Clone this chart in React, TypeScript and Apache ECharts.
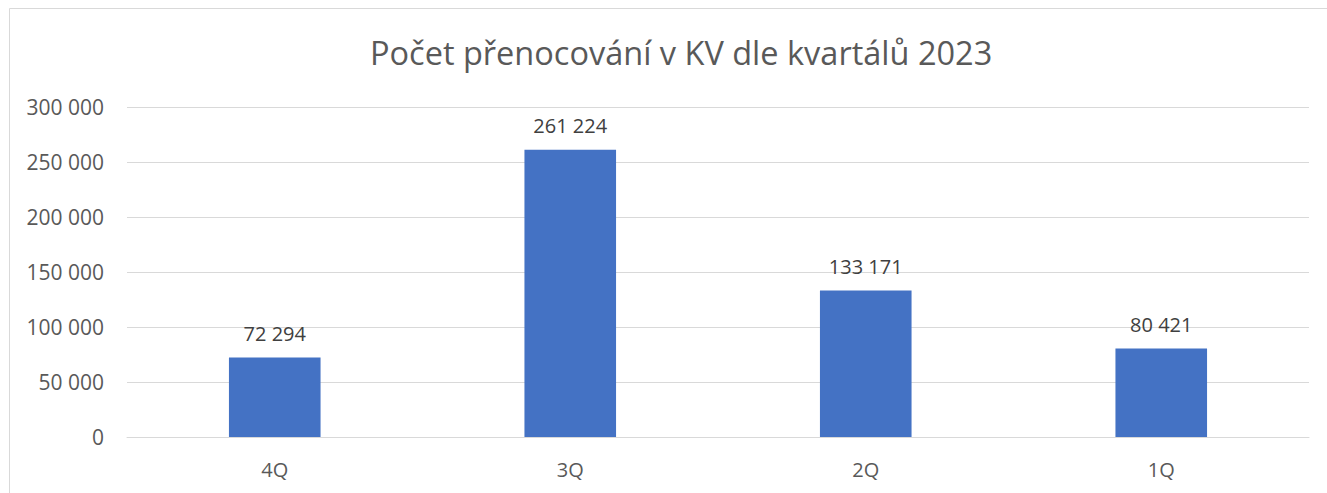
import React, { useEffect, useRef } from "react";
import * as echarts from "echarts";

const title = "Počet přenocování v KV dle kvartálů 2023";
const categories = ["4Q", "3Q", "2Q", "1Q"];
const values = [72294, 261224, 133171, 80421];
const yMin = 0;
const yMax = 300000;
const yInterval = 50000;

const fmt = (v: number) => String(Math.round(v)).replace(/\B(?=(\d{3})+(?!\d))/g, " ");

export default function App() {
  const ref = useRef<HTMLDivElement>(null);
  useEffect(() => {
    document.body.style.margin = "0";
    const chart = echarts.init(ref.current!, null, { renderer: "svg" });
    const font = "Open Sans, Liberation Sans, sans-serif";
    chart.setOption({
      animation: false,
      backgroundColor: "#ffffff",
      title: {
        text: title,
        left: 365,
        top: 31,
        textStyle: { fontFamily: font, fontSize: 32.5, fontWeight: "normal", color: "#595959" },
      },
      graphic: [
        {
          type: "rect",
          shape: { x: 9.5, y: 8.5, width: 1400, height: 600 },
          style: { fill: "none", stroke: "#d9d9d9", lineWidth: 1 },
          silent: true,
        },
      ],
      grid: { left: 127, right: 18, top: 107, bottom: 56, containLabel: false },
      xAxis: {
        type: "category",
        data: categories,
        axisLine: { show: true, lineStyle: { color: "#d9d9d9", width: 1 } },
        axisTick: { show: false },
        axisLabel: { color: "#595959", fontFamily: font, fontSize: 20, margin: 22 },
      },
      yAxis: {
        type: "value",
        min: yMin,
        max: yMax,
        interval: yInterval,
        axisLine: { show: false },
        axisTick: { show: false },
        splitLine: { lineStyle: { color: "#d9d9d9", width: 1 } },
        axisLabel: { color: "#595959", fontFamily: font, fontSize: 21, margin: 23, formatter: (v: number) => fmt(v) },
      },
      series: [
        {
          type: "bar",
          data: values,
          barWidth: "31%",
          itemStyle: { color: "#4472C4" },
          label: {
            show: true,
            position: "top",
            distance: 14,
            color: "#404040",
            fontFamily: font,
            fontSize: 20,
            formatter: (p: any) => fmt(p.value),
          },
        },
      ],
    });
    return () => chart.dispose();
  }, []);
  return <div ref={ref} style={{ position: "fixed", left: 0, top: 0, width: 1327, height: 493 }} />;
}
